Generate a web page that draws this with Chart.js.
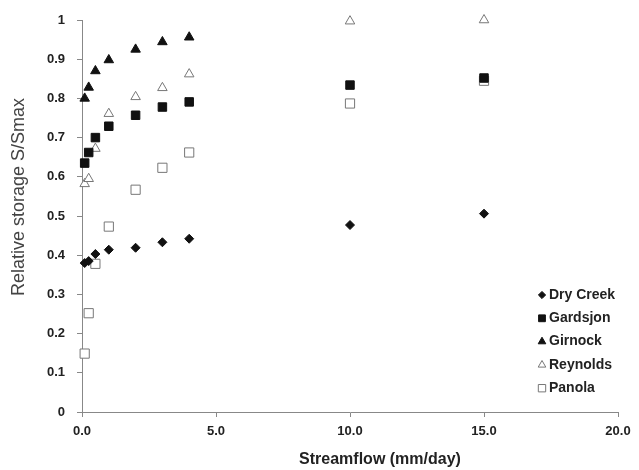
<!DOCTYPE html>
<html>
<head>
<meta charset="utf-8">
<script src="https://cdn.jsdelivr.net/npm/chart.js@4.4.1/dist/chart.umd.min.js"></script>
<style>
  body { margin: 0; background: #fff; }
  #chart { display: block; }
</style>
</head>
<body>
<canvas id="chart" width="639" height="470"></canvas>
<script>
// streamflow values (mm/day) the sites were sampled at
const flow = [0.1, 0.25, 0.5, 1, 2, 3, 4, 10, 15];
const flowGirnock = [0.1, 0.25, 0.5, 1, 2, 3, 4];

// relative storage S/Smax per site
const dryCreek = [0.38, 0.385, 0.403, 0.414, 0.419, 0.433, 0.442, 0.477, 0.506];
const gardsjon = [0.635, 0.662, 0.70, 0.729, 0.757, 0.778, 0.791, 0.834, 0.852];
const girnock = [0.80, 0.828, 0.87, 0.898, 0.925, 0.944, 0.956];
const reynolds = [0.582, 0.595, 0.672, 0.761, 0.804, 0.827, 0.862, 0.997, 1.0];
const panola = [0.149, 0.252, 0.378, 0.473, 0.567, 0.623, 0.662, 0.787, 0.845];

const siteNames = ["Dry Creek", "Gardsjon", "Girnock", "Reynolds", "Panola"];

const xTickLabels = ["0.0", "5.0", "10.0", "15.0", "20.0"];
const yTickLabels = ["0", "0.1", "0.2", "0.3", "0.4", "0.5", "0.6", "0.7", "0.8", "0.9", "1"];

const xTitle = "Streamflow (mm/day)";
const yTitle = "Relative storage S/Smax";

const FONT = "'Liberation Sans', Arial, sans-serif";

function points(xs, ys){
    return ys.map((y, i) => ({ x: xs[i], y: y }));
}

const styles = [
    { pointStyle: "rectRot", radius: 4.5, fill: "#111", line: "#111" },
    { pointStyle: "rect", radius: 6, fill: "#111", line: "#111" },
    { pointStyle: "triangle", radius: 5.5, fill: "#111", line: "#111" },
    { pointStyle: "triangle", radius: 5.5, fill: "#fff", line: "#777" },
    { pointStyle: "rect", radius: 6.5, fill: "#fff", line: "#777" }
];

const series = [
    points(flow, dryCreek),
    points(flow, gardsjon),
    points(flowGirnock, girnock),
    points(flow, reynolds),
    points(flow, panola)
];

const datasets = series.map((data, i) => ({
    label: siteNames[i],
    data: data,
    pointStyle: styles[i].pointStyle,
    pointRadius: styles[i].radius,
    pointBackgroundColor: styles[i].fill,
    pointBorderColor: styles[i].line,
    pointBorderWidth: 1,
    showLine: false,
    clip: false
}));

// legend in the lower right and the two axis titles
const textPlugin = {
    id: "textPlugin",
    afterDraw(chart){
        const ctx = chart.ctx;
        ctx.save();

        ctx.font = "bold 14px " + FONT;
        ctx.textAlign = "left";
        ctx.textBaseline = "middle";
        siteNames.forEach((name, i) => {
            const y = 295 + i * 23.3;
            ctx.fillStyle = styles[i].fill;
            ctx.strokeStyle = styles[i].line;
            ctx.lineWidth = 1;
            Chart.helpers.drawPoint(ctx, {
                pointStyle: styles[i].pointStyle,
                radius: styles[i].radius * 0.8,
                rotation: 0,
                borderWidth: 1
            }, 542, y);
            ctx.fillStyle = "#222";
            ctx.fillText(name, 549, y);
        });

        ctx.font = "bold 16px " + FONT;
        ctx.textAlign = "center";
        ctx.fillStyle = "#222";
        ctx.fillText(xTitle, 380, 460);

        ctx.translate(19, 197);
        ctx.rotate(-Math.PI / 2);
        ctx.font = "18px " + FONT;
        ctx.fillStyle = "#444";
        ctx.fillText(yTitle, 0, 0);

        ctx.restore();
    }
};

new Chart(document.getElementById("chart"), {
    type: "scatter",
    data: { datasets: datasets },
    options: {
        responsive: false,
        animation: false,
        layout: { padding: { top: 20, right: 21, left: 0, bottom: 0 } },
        plugins: {
            legend: { display: false },
            tooltip: { enabled: false }
        },
        scales: {
            x: {
                type: "linear",
                min: 0,
                max: 20,
                afterFit(scale){ scale.height = 58; },
                border: { color: "#888", width: 1 },
                grid: { drawOnChartArea: false, tickLength: 5, color: "#888" },
                ticks: {
                    stepSize: 5,
                    padding: 7,
                    color: "#222",
                    font: { family: FONT, size: 13, weight: "bold" },
                    callback: (v) => xTickLabels[Math.round(v / 5)]
                }
            },
            y: {
                min: 0,
                max: 1,
                afterFit(scale){ scale.width = 82; },
                border: { color: "#888", width: 1 },
                grid: { drawOnChartArea: false, tickLength: 5, color: "#888" },
                ticks: {
                    stepSize: 0.1,
                    padding: 12,
                    color: "#222",
                    font: { family: FONT, size: 13, weight: "bold" },
                    callback: (v) => yTickLabels[Math.round(v * 10)]
                }
            }
        }
    },
    plugins: [textPlugin]
});
</script>
</body>
</html>
